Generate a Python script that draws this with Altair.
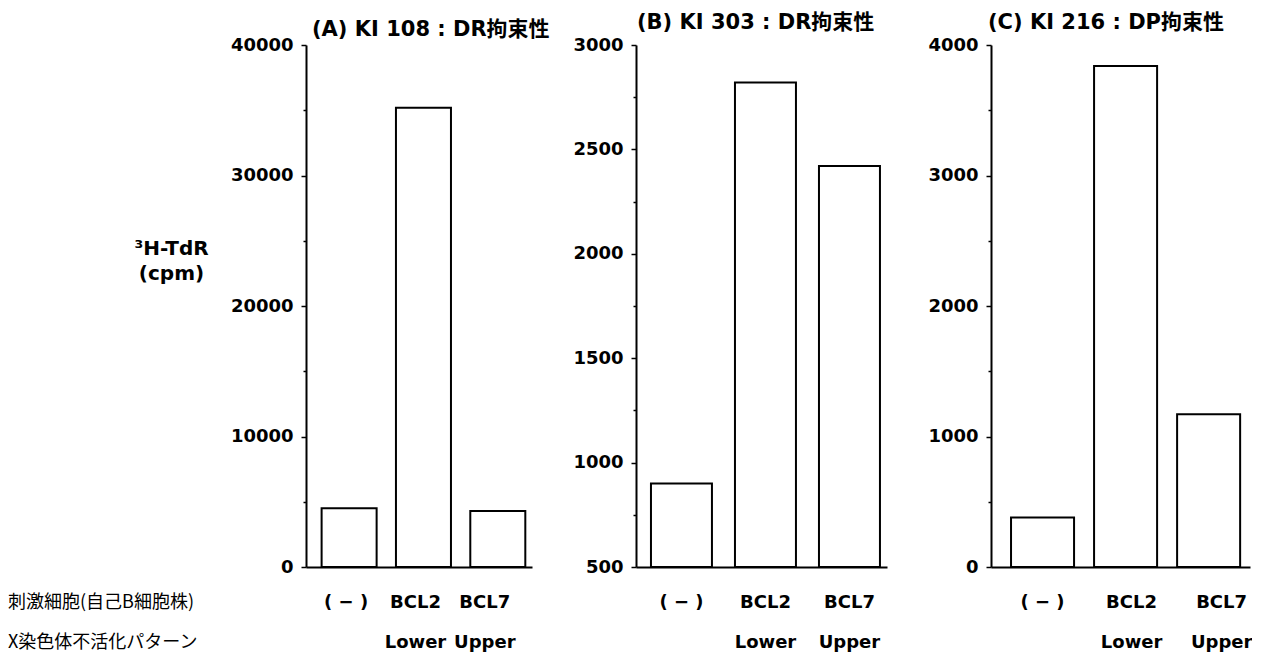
import altair as alt
import pandas as pd

categories = ["( − )", "BCL2", "BCL7"]
patterns = ["", "Lower", "Upper"]
values_a = [4500, 35200, 4300]
values_b = [900, 2820, 2420]
values_c = [380, 3840, 1170]
panel_titles = ["(A) KI 108 : DR拘束性", "(B) KI 303 : DR拘束性", "(C) KI 216 : DP拘束性"]
row_labels = ["刺激細胞(自己B細胞株)", "X染色体不活化パターン"]
y_title = ["³H-TdR", "(cpm)"]
ticks_a = [0, 10000, 20000, 30000, 40000]
ticks_b = [500, 1000, 1500, 2000, 2500, 3000]
ticks_c = [0, 1000, 2000, 3000, 4000]

LATIN = "DejaVu Sans"
CJK = "Noto Sans CJK JP"
FONT = f"{LATIN}, {CJK}"
H = 522


def panel(values, ticks, minor, width, scale, offsets, title, title_dx, title_dy, first):
    cats = [f"{c}|{p}" for c, p in zip(categories, patterns)]
    df = pd.DataFrame({"cat": cats, "value": values})
    step = ticks[1] - ticks[0]
    all_ticks = list(range(ticks[0], ticks[-1] + 1, minor))
    major_test = f"(datum.value - {ticks[0]}) % {step} === 0"
    yaxis = dict(
        values=all_ticks,
        format="d",
        labelExpr=f"{major_test} ? datum.label : ''",
        tickSize={"condition": {"test": f"(datum.value - {ticks[0]}) % {step} !== 0", "value": 3}, "value": 5},
        tickColor="black",
        tickWidth=1.5,
        domainColor="black",
        domainWidth=2,
        labelFont=FONT,
        labelFontSize=18,
        labelFontWeight="bold",
        labelColor="black",
        labelPadding=8,
        grid=False,
    )
    if first:
        yaxis.update(
            title=y_title,
            titleAngle=0,
            titleX=-135,
            titleY=203,
            titleAlign="center",
            titleBaseline="middle",
            titleFont=FONT,
            titleFontSize=20,
            titleFontWeight="bold",
            titleColor="black",
            titleLineHeight=25,
        )
    else:
        yaxis.update(title=None)

    conds = [
        {"test": f"datum.value == '{c}'", "value": o} for c, o in zip(cats, offsets)
    ]

    bars = alt.Chart(df).mark_bar(fill="white", stroke="black", strokeWidth=2).encode(
        x=alt.X(
            "cat:N",
            sort=cats,
            scale=alt.Scale(paddingInner=scale[0], paddingOuter=scale[1], align=scale[2]),
            axis=alt.Axis(
                title=None,
                labelExpr="split(datum.label, '|')",
                labelAngle=0,
                ticks=False,
                labelPadding=26,
                labelFont=FONT,
                labelFontSize=18,
                labelFontWeight="bold",
                labelColor="black",
                labelLineHeight=40,
                labelBaseline="top",
                labelOffset={"condition": conds, "value": 0},
                domainColor="black",
                domainWidth=2,
            ),
        ),
        y=alt.Y(
            "value:Q",
            scale=alt.Scale(domain=[ticks[0], ticks[-1]], nice=False, zero=False),
            axis=alt.Axis(**yaxis),
        ),
        y2=alt.datum(ticks[0]),
    )
    layers = [bars]
    if first:
        for i, t in enumerate(row_labels):
            layers.append(
                alt.Chart(pd.DataFrame({"t": [t]}))
                .mark_text(align="left", baseline="middle", font=CJK, fontSize=18, color="black")
                .encode(text="t:N", x=alt.value(-298), y=alt.value(H + 36 + 40 * i))
            )
    return alt.layer(*layers).properties(
        width=width,
        height=H,
        title=alt.TitleParams(
            text=title,
            anchor="start",
            frame="group",
            dx=title_dx,
            dy=title_dy,
            font=FONT,
            fontSize=21,
            fontWeight="bold",
            color="black",
            offset=4,
        ),
    )


pa = panel(values_a, ticks_a, 5000, 226, (0.26, 0.15, 0.7), [-3, -8, -13],
           panel_titles[0], 6, 8, True)
pb = panel(values_b, ticks_b, 250, 251, (0.274, 0.131, 0.68), [0, 0, 0],
           panel_titles[1], 1, 1, False)
pc = panel(values_c, ticks_c, 500, 259, (0.241, 0.18, 0.67), [0, 6, 13],
           panel_titles[2], -3, 1, False)

chart = (
    alt.hconcat(pa, pb, pc, spacing=104, bounds="flush")
    .properties(padding={"left": 0, "top": 4, "right": 0, "bottom": 0}, background="white")
    .configure_view(stroke=None)
)

chart.save("out.html", embed_options={"renderer": "svg", "actions": False})
